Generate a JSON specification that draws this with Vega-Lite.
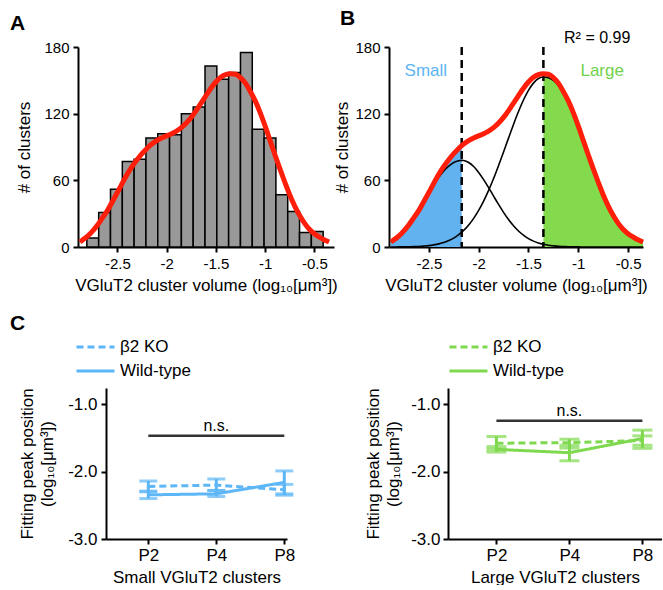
{
 "$schema": "https://vega.github.io/schema/vega-lite/v6.json",
 "padding": {"left": 10, "top": 8, "right": 0, "bottom": 0},
 "config": {
  "view": {"stroke": null},
  "font": "Liberation Sans",
  "axis": {"domainColor": "black", "domainWidth": 2, "tickColor": "black", "tickWidth": 2, "tickSize": 5, "labelColor": "black", "labelFontSize": 15, "titleFontSize": 17, "titleFontWeight": "normal", "titleColor": "black", "grid": false, "labelFont": "Liberation Sans", "titleFont": "Liberation Sans"},
  "title": {"fontSize": 21, "fontWeight": "bold", "anchor": "start", "frame": "group", "color": "black", "font": "Liberation Sans"}
 },
 "datasets": {
  "hist": [
   {"x0": -2.81, "x1": -2.69, "n": 8}, {"x0": -2.69, "x1": -2.57, "n": 31}, {"x0": -2.57, "x1": -2.45, "n": 52},
   {"x0": -2.45, "x1": -2.33, "n": 77}, {"x0": -2.33, "x1": -2.21, "n": 79}, {"x0": -2.21, "x1": -2.09, "n": 98},
   {"x0": -2.09, "x1": -1.97, "n": 102}, {"x0": -1.97, "x1": -1.85, "n": 101}, {"x0": -1.85, "x1": -1.73, "n": 120},
   {"x0": -1.73, "x1": -1.61, "n": 126}, {"x0": -1.61, "x1": -1.49, "n": 163}, {"x0": -1.49, "x1": -1.37, "n": 151},
   {"x0": -1.37, "x1": -1.25, "n": 157}, {"x0": -1.25, "x1": -1.13, "n": 175}, {"x0": -1.13, "x1": -1.01, "n": 106},
   {"x0": -1.01, "x1": -0.89, "n": 98}, {"x0": -0.89, "x1": -0.77, "n": 47}, {"x0": -0.77, "x1": -0.65, "n": 32},
   {"x0": -0.65, "x1": -0.53, "n": 13}, {"x0": -0.53, "x1": -0.41, "n": 14}
  ],
  "fit": [
   {"x": -2.88, "total": 4.5, "small": 4.5, "large": 0},
   {"x": -2.85, "total": 6.5, "small": 6.5, "large": 0},
   {"x": -2.8, "total": 10, "small": 9.9, "large": 0.1},
   {"x": -2.75, "total": 14.5, "small": 14.4, "large": 0.1},
   {"x": -2.7, "total": 20, "small": 19.8, "large": 0.2},
   {"x": -2.65, "total": 26.5, "small": 26.2, "large": 0.3},
   {"x": -2.6, "total": 33, "small": 32.5, "large": 0.5},
   {"x": -2.55, "total": 41, "small": 40.2, "large": 0.8},
   {"x": -2.5, "total": 49, "small": 47.8, "large": 1.2},
   {"x": -2.45, "total": 57.5, "small": 55.6, "large": 1.9},
   {"x": -2.4, "total": 65.5, "small": 62.7, "large": 2.8},
   {"x": -2.35, "total": 72.5, "small": 68.5, "large": 4.0},
   {"x": -2.3, "total": 78.5, "small": 72.7, "large": 5.8},
   {"x": -2.25, "total": 84, "small": 76, "large": 8.0},
   {"x": -2.2, "total": 88.7, "small": 77.6, "large": 11.1},
   {"x": -2.17, "total": 91.3, "small": 78, "large": 13.3},
   {"x": -2.15, "total": 92.7, "small": 77.8, "large": 14.9},
   {"x": -2.1, "total": 95.8, "small": 76, "large": 19.8},
   {"x": -2.05, "total": 98.2, "small": 72.4, "large": 25.8},
   {"x": -2.0, "total": 100, "small": 67.1, "large": 32.9},
   {"x": -1.95, "total": 101.9, "small": 60.6, "large": 41.3},
   {"x": -1.9, "total": 104.3, "small": 53.4, "large": 50.9},
   {"x": -1.85, "total": 107.4, "small": 45.8, "large": 61.6},
   {"x": -1.8, "total": 111.6, "small": 38.3, "large": 73.3},
   {"x": -1.75, "total": 116.7, "small": 31.2, "large": 85.5},
   {"x": -1.7, "total": 122.7, "small": 24.7, "large": 98},
   {"x": -1.65, "total": 129.4, "small": 19.1, "large": 110.3},
   {"x": -1.6, "total": 136.3, "small": 14.4, "large": 121.9},
   {"x": -1.55, "total": 142.9, "small": 10.6, "large": 132.3},
   {"x": -1.5, "total": 148.5, "small": 7.5, "large": 141},
   {"x": -1.45, "total": 152.8, "small": 5.3, "large": 147.5},
   {"x": -1.4, "total": 155.2, "small": 3.6, "large": 151.6},
   {"x": -1.35, "total": 156, "small": 2.4, "large": 153},
   {"x": -1.3, "total": 155.5, "small": 1.5, "large": 152.4},
   {"x": -1.25, "total": 152.5, "small": 1, "large": 150},
   {"x": -1.2, "total": 147.5, "small": 0.6, "large": 145.6},
   {"x": -1.15, "total": 140, "small": 0.4, "large": 138.4},
   {"x": -1.1, "total": 131.5, "small": 0.2, "large": 130},
   {"x": -1.05, "total": 121, "small": 0.1, "large": 119.6},
   {"x": -1.0, "total": 109, "small": 0.1, "large": 107.6},
   {"x": -0.95, "total": 96, "small": 0, "large": 94.8},
   {"x": -0.9, "total": 83, "small": 0, "large": 81.8},
   {"x": -0.85, "total": 70.5, "small": 0, "large": 69.4},
   {"x": -0.8, "total": 58.5, "small": 0, "large": 57.5},
   {"x": -0.75, "total": 47, "small": 0, "large": 46.2},
   {"x": -0.7, "total": 37, "small": 0, "large": 36.3},
   {"x": -0.65, "total": 28.5, "small": 0, "large": 28},
   {"x": -0.6, "total": 21.5, "small": 0, "large": 21.1},
   {"x": -0.55, "total": 16, "small": 0, "large": 15.7},
   {"x": -0.5, "total": 12, "small": 0, "large": 11.8},
   {"x": -0.45, "total": 9, "small": 0, "large": 8.8},
   {"x": -0.4, "total": 6.5, "small": 0, "large": 6.4},
   {"x": -0.35, "total": 4.5, "small": 0, "large": 4.4}
  ],
  "cs": [
   {"age": "P2", "geno": "β2 KO", "m": -2.22, "lo": -2.30, "hi": -2.14},
   {"age": "P4", "geno": "β2 KO", "m": -2.20, "lo": -2.28, "hi": -2.11},
   {"age": "P8", "geno": "β2 KO", "m": -2.27, "lo": -2.35, "hi": -2.19},
   {"age": "P2", "geno": "Wild-type", "m": -2.345, "lo": -2.40, "hi": -2.29},
   {"age": "P4", "geno": "Wild-type", "m": -2.33, "lo": -2.37, "hi": -2.28},
   {"age": "P8", "geno": "Wild-type", "m": -2.16, "lo": -2.33, "hi": -1.99}
  ],
  "cl": [
   {"age": "P2", "geno": "β2 KO", "m": -1.58, "lo": -1.67, "hi": -1.48},
   {"age": "P4", "geno": "β2 KO", "m": -1.57, "lo": -1.65, "hi": -1.52},
   {"age": "P8", "geno": "β2 KO", "m": -1.54, "lo": -1.61, "hi": -1.47},
   {"age": "P2", "geno": "Wild-type", "m": -1.67, "lo": -1.71, "hi": -1.63},
   {"age": "P4", "geno": "Wild-type", "m": -1.72, "lo": -1.84, "hi": -1.61},
   {"age": "P8", "geno": "Wild-type", "m": -1.51, "lo": -1.655, "hi": -1.385}
  ]
 },
 "spacing": 19,
 "resolve": {"legend": {"strokeDash": "independent"}, "scale": {"strokeDash": "independent"}},
 "vconcat": [
  {
   "hconcat": [
    {
     "title": {"text": "A", "dx": -68, "offset": 6},
     "width": 256, "height": 200,
     "layer": [
      {
       "data": {"name": "hist"},
       "mark": {"type": "rect", "fill": "#999999", "stroke": "black", "strokeWidth": 1.5},
       "encoding": {
        "x": {"field": "x0", "type": "quantitative", "scale": {"domain": [-2.9, -0.3], "nice": false, "zero": false},
              "axis": {"title": "VGluT2 cluster volume (log₁₀[μm³])", "values": [-2.5, -2, -1.5, -1, -0.5], "labelExpr": "datum.value + ''", "labelPadding": 4, "titlePadding": 6}},
        "x2": {"field": "x1"},
        "y": {"field": "n", "type": "quantitative", "scale": {"domain": [0, 180], "nice": false},
              "axis": {"title": "# of clusters", "values": [0, 60, 120, 180], "titlePadding": 10, "labelPadding": 4}},
        "y2": {"datum": 0}
       }
      },
      {
       "data": {"name": "fit"},
       "mark": {"type": "line", "color": "#ff1e0a", "strokeWidth": 5, "interpolate": "monotone"},
       "encoding": {"x": {"field": "x", "type": "quantitative"}, "y": {"field": "total", "type": "quantitative"}}
      }
     ]
    },
    {
     "title": {"text": "B", "dx": -49, "offset": 1},
     "width": 254, "height": 200,
     "layer": [
      {
       "data": {"name": "fit"},
       "transform": [{"filter": "datum.x <= -2.17"}],
       "mark": {"type": "area", "color": "#62b2f0", "interpolate": "monotone"},
       "encoding": {
        "x": {"field": "x", "type": "quantitative", "scale": {"domain": [-2.9, -0.35], "nice": false, "zero": false},
              "axis": {"title": "VGluT2 cluster volume (log₁₀[μm³])", "values": [-2.5, -2, -1.5, -1, -0.5], "labelExpr": "datum.value + ''", "labelPadding": 4, "titlePadding": 6}},
        "y": {"field": "total", "type": "quantitative", "scale": {"domain": [0, 180], "nice": false},
              "axis": {"title": "# of clusters", "values": [0, 60, 120, 180], "titlePadding": 3, "labelPadding": 4}}
       }
      },
      {
       "data": {"name": "fit"},
       "transform": [{"filter": "datum.x >= -1.35"}],
       "mark": {"type": "area", "color": "#82da4c", "interpolate": "monotone"},
       "encoding": {"x": {"field": "x", "type": "quantitative"}, "y": {"field": "total", "type": "quantitative"}}
      },
      {
       "data": {"name": "fit"},
       "mark": {"type": "line", "color": "black", "strokeWidth": 1.6, "interpolate": "monotone"},
       "encoding": {"x": {"field": "x", "type": "quantitative"}, "y": {"field": "small", "type": "quantitative"}}
      },
      {
       "data": {"name": "fit"},
       "mark": {"type": "line", "color": "black", "strokeWidth": 1.6, "interpolate": "monotone"},
       "encoding": {"x": {"field": "x", "type": "quantitative"}, "y": {"field": "large", "type": "quantitative"}}
      },
      {
       "data": {"values": [{"v": -2.17}, {"v": -1.35}]},
       "mark": {"type": "rule", "color": "black", "strokeWidth": 2.5, "strokeDash": [8, 5]},
       "encoding": {"x": {"field": "v", "type": "quantitative"}}
      },
      {
       "data": {"name": "fit"},
       "mark": {"type": "line", "color": "#ff1e0a", "strokeWidth": 5, "interpolate": "monotone"},
       "encoding": {"x": {"field": "x", "type": "quantitative"}, "y": {"field": "total", "type": "quantitative"}}
      },
      {
       "data": {"values": [{"x": -0.81, "y": 188, "t": "R² = 0.99"}]},
       "mark": {"type": "text", "fontSize": 16, "color": "black", "baseline": "middle"},
       "encoding": {"x": {"field": "x", "type": "quantitative"}, "y": {"field": "y", "type": "quantitative"}, "text": {"field": "t"}}
      },
      {
       "data": {"values": [{"x": -2.53, "y": 158.7, "t": "Small"}]},
       "mark": {"type": "text", "fontSize": 17, "color": "#5cb5f2", "baseline": "middle"},
       "encoding": {"x": {"field": "x", "type": "quantitative"}, "y": {"field": "y", "type": "quantitative"}, "text": {"field": "t"}}
      },
      {
       "data": {"values": [{"x": -0.76, "y": 158.7, "t": "Large"}]},
       "mark": {"type": "text", "fontSize": 17, "color": "#6fd24a", "baseline": "middle"},
       "encoding": {"x": {"field": "x", "type": "quantitative"}, "y": {"field": "y", "type": "quantitative"}, "text": {"field": "t"}}
      }
     ]
    }
   ],
   "spacing": 55,
   "bounds": "flush"
  },
  {
   "hconcat": [
    {
     "hconcat": [
      {
       "width": 1, "height": 151,
       "data": {"values": []},
       "mark": "point"
      },
      {
       "title": {"text": "C", "dx": -96, "offset": 54},
       "width": 181, "height": 151,
       "layer": [
        {
         "data": {"values": [{"a": "P2", "b": "P8", "y": -1.47}]},
         "mark": {"type": "rule", "color": "#333333", "strokeWidth": 2.5},
         "encoding": {
          "x": {"field": "a", "type": "ordinal", "scale": {"type": "point", "domain": ["P2", "P4", "P8"], "padding": 0.331, "align": 0.94},
                "axis": {"title": "Small VGluT2 clusters", "labelAngle": 0, "labelFontSize": 17, "labelPadding": 3, "titlePadding": 6}},
          "x2": {"field": "b"},
          "y": {"field": "y", "type": "quantitative", "scale": {"domain": [-3, -0.76], "nice": false, "zero": false},
                "axis": {"title": ["Fitting peak position", "(log₁₀[μm³])"], "values": [-1, -2, -3], "labelExpr": "replace(format(datum.value, '.1f'), '\u2212', '-')", "labelFontSize": 17, "labelPadding": 4, "titleLineHeight": 20, "titlePadding": 11}}
         }
        },
        {
         "data": {"values": [{"a": "P4", "y": -1.47}]},
         "mark": {"type": "text", "text": "n.s.", "fontSize": 16, "baseline": "bottom", "dy": -2, "color": "black"},
         "encoding": {"x": {"field": "a", "type": "ordinal"}, "y": {"field": "y", "type": "quantitative"}}
        },
        {
         "data": {"name": "cs"},
         "mark": {"type": "rule", "color": "#5db6f6", "strokeWidth": 3},
         "encoding": {"x": {"field": "age", "type": "ordinal"}, "y": {"field": "lo", "type": "quantitative"}, "y2": {"field": "hi"}}
        },
        {
         "data": {"name": "cs"},
         "mark": {"type": "tick", "color": "#5db6f6", "thickness": 3, "size": 18, "orient": "horizontal"},
         "encoding": {"x": {"field": "age", "type": "ordinal"}, "y": {"field": "lo", "type": "quantitative"}}
        },
        {
         "data": {"name": "cs"},
         "mark": {"type": "tick", "color": "#5db6f6", "thickness": 3, "size": 18, "orient": "horizontal"},
         "encoding": {"x": {"field": "age", "type": "ordinal"}, "y": {"field": "hi", "type": "quantitative"}}
        },
        {
         "data": {"name": "cs"},
         "mark": {"type": "line", "color": "#5db6f6", "strokeWidth": 3},
         "encoding": {
          "x": {"field": "age", "type": "ordinal"}, "y": {"field": "m", "type": "quantitative"},
          "strokeDash": {"field": "geno", "type": "nominal", "scale": {"domain": ["β2 KO", "Wild-type"], "range": [[7, 4], [1, 0]]},
           "legend": {"title": null, "orient": "none", "legendX": -3, "legendY": -53, "symbolType": "stroke", "symbolSize": 1444, "symbolStrokeWidth": 3, "symbolStrokeColor": "#5db6f6", "labelFontSize": 17, "labelColor": "black", "rowPadding": 0, "clipHeight": 24, "labelOffset": 4, "padding": 0}}
         }
        }
       ]
      }
     ],
     "spacing": 27,
     "bounds": "flush"
    },
    {
     "width": 214, "height": 151,
     "layer": [
      {
       "data": {"values": [{"a": "P2", "b": "P8", "y": -1.245}]},
       "mark": {"type": "rule", "color": "#333333", "strokeWidth": 2.5},
       "encoding": {
        "x": {"field": "a", "type": "ordinal", "scale": {"type": "point", "domain": ["P2", "P4", "P8"], "padding": 0.466, "align": 0.712},
              "axis": {"title": "Large VGluT2 clusters", "labelAngle": 0, "labelFontSize": 17, "labelPadding": 3, "titlePadding": 6}},
        "x2": {"field": "b"},
        "y": {"field": "y", "type": "quantitative", "scale": {"domain": [-3, -0.76], "nice": false, "zero": false},
              "axis": {"title": ["Fitting peak position", "(log₁₀[μm³])"], "values": [-1, -2, -3], "labelExpr": "replace(format(datum.value, '.1f'), '\u2212', '-')", "labelFontSize": 17, "labelPadding": 3, "titleLineHeight": 20, "titlePadding": 8}}
       }
      },
      {
       "data": {"values": [{"a": "P4", "y": -1.245}]},
       "mark": {"type": "text", "text": "n.s.", "fontSize": 16, "baseline": "bottom", "dy": -2, "color": "black"},
       "encoding": {"x": {"field": "a", "type": "ordinal"}, "y": {"field": "y", "type": "quantitative"}}
      },
      {
       "data": {"name": "cl"},
       "mark": {"type": "rule", "color": "#7fd94f", "strokeWidth": 3},
       "encoding": {"x": {"field": "age", "type": "ordinal"}, "y": {"field": "lo", "type": "quantitative"}, "y2": {"field": "hi"}}
      },
      {
       "data": {"name": "cl"},
       "mark": {"type": "tick", "color": "#7fd94f", "thickness": 3, "size": 20, "orient": "horizontal"},
       "encoding": {"x": {"field": "age", "type": "ordinal"}, "y": {"field": "lo", "type": "quantitative"}}
      },
      {
       "data": {"name": "cl"},
       "mark": {"type": "tick", "color": "#7fd94f", "thickness": 3, "size": 20, "orient": "horizontal"},
       "encoding": {"x": {"field": "age", "type": "ordinal"}, "y": {"field": "hi", "type": "quantitative"}}
      },
      {
       "data": {"name": "cl"},
       "mark": {"type": "line", "color": "#7fd94f", "strokeWidth": 3},
       "encoding": {
        "x": {"field": "age", "type": "ordinal"}, "y": {"field": "m", "type": "quantitative"},
        "strokeDash": {"field": "geno", "type": "nominal", "scale": {"domain": ["β2 KO", "Wild-type"], "range": [[7, 4], [1, 0]]},
         "legend": {"title": null, "orient": "none", "legendX": 0, "legendY": -53, "symbolType": "stroke", "symbolSize": 1444, "symbolStrokeWidth": 3, "symbolStrokeColor": "#7fd94f", "labelFontSize": 17, "labelColor": "black", "rowPadding": 0, "clipHeight": 24, "labelOffset": 4, "padding": 0}}
       }
      }
     ]
    }
   ],
   "spacing": 370,
   "bounds": "flush",
   "resolve": {"legend": {"strokeDash": "independent"}, "scale": {"strokeDash": "independent"}}
  }
 ]
}
